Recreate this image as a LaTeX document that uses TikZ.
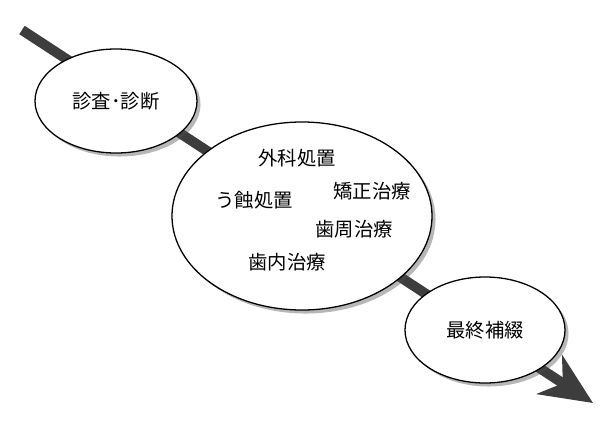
\documentclass[tikz,border=0pt]{standalone}
\usepackage{fontspec}
\newfontfamily\jpfont{Noto Sans CJK JP}
\usepackage{tikz}
\usetikzlibrary{arrows.meta, shapes.geometric, shadows}

\begin{document}
\begin{tikzpicture}[x=0.03cm, y=-0.03cm,
                    font=\jpfont\fontsize{16.5}{20}\selectfont,
                    flow/.style={draw=black!76, line width=0.3cm,
                      -{Stealth[length=1.55cm, width=1.38cm, inset=0.47cm]}},
                    stage/.style={ellipse, draw=black, line width=1.1pt, fill=white,
                      inner sep=0pt, drop shadow={shadow xshift=3pt, shadow yshift=-3pt,
                      opacity=0.4, fill=black!70}}]
  \tikzstyle{treat}=[inner sep=1pt]
  \useasboundingbox (0,0) rectangle (600,421);

  \coordinate (start) at (22,30);
  \coordinate (end)   at (593,403);
  \draw[flow] (start) -- (end);

  \node[stage, minimum width=4.86cm, minimum height=3.12cm] (exam)  at (116,101) {診査･診断};
  \node[stage, minimum width=7.8cm,  minimum height=5.64cm] (treat) at (302,216) {};
  \node[stage, minimum width=4.8cm,  minimum height=3.18cm] (final) at (485,330) {最終補綴};

  % treatments inside the big ellipse
  \node[treat] (surg)  at (297,158) {外科処置};
  \node[treat] (ortho) at (372,191) {矯正治療};
  \node[treat] (caries) at (254,200) {う蝕処置};
  \node[treat] (perio) at (354,229) {歯周治療};
  \node[treat] (endo)  at (287,262) {歯内治療};
\end{tikzpicture}
\end{document}
